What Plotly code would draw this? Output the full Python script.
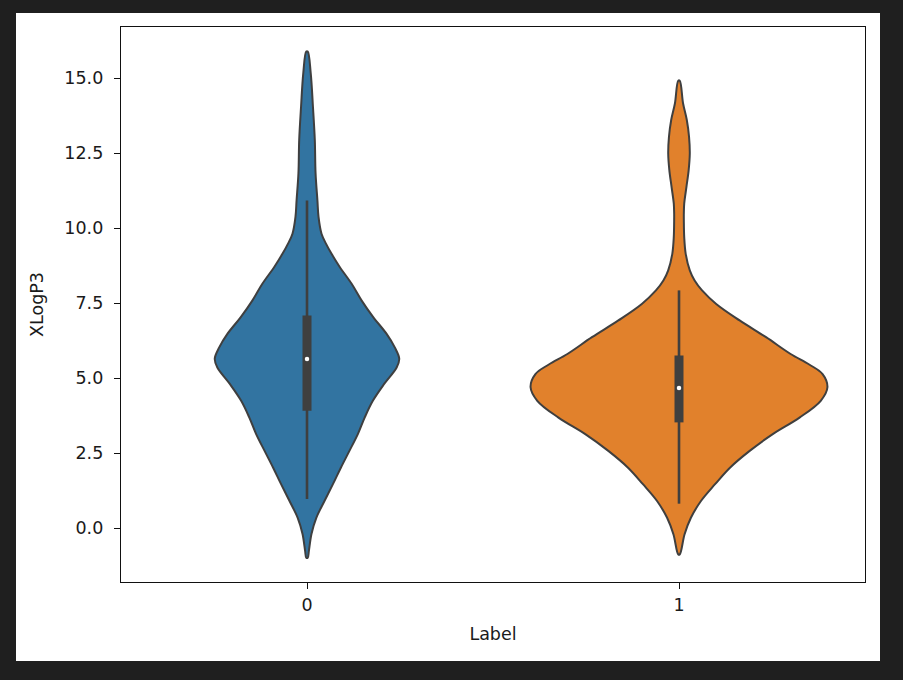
import plotly.graph_objects as go

# ---- data ----
categories = ["0", "1"]
fill_colors = ["#3274a1", "#e1812c"]

# group "0": density outline (value levels, half-width in category units)
levels_0 = [15.88, 15.16, 14.04, 12.93, 11.83, 10.92, 10.37, 9.81, 9.48, 9.14, 8.70, 8.14,
            7.58, 7.03, 6.47, 6.02, 5.64, 5.35, 4.81, 4.24, 3.68, 3.14, 2.57, 2.01,
            1.47, 0.90, 0.34, -0.20, -0.77, -0.99]
halfw_0 = [0.002, 0.010, 0.016, 0.021, 0.023, 0.028, 0.031, 0.039, 0.051, 0.066, 0.088, 0.120,
           0.147, 0.178, 0.214, 0.236, 0.248, 0.241, 0.208, 0.177, 0.155, 0.137, 0.114, 0.091,
           0.070, 0.047, 0.025, 0.012, 0.005, 0.002]

# group "1"
levels_1 = [14.91, 14.15, 13.60, 13.04, 12.48, 11.93, 11.37, 10.81, 10.48, 10.26, 9.70, 9.14,
            8.59, 8.25, 7.92, 7.47, 6.92, 6.36, 5.80, 5.45, 5.13, 4.69, 4.24, 3.68,
            3.13, 2.57, 2.01, 1.46, 0.90, 0.34, -0.21, -0.88]
halfw_1 = [0.002, 0.011, 0.021, 0.027, 0.029, 0.026, 0.020, 0.014, 0.013, 0.013, 0.014, 0.018,
           0.029, 0.042, 0.062, 0.100, 0.163, 0.234, 0.300, 0.350, 0.386, 0.399, 0.381, 0.324,
           0.252, 0.190, 0.137, 0.097, 0.059, 0.032, 0.015, 0.002]

# box statistics: whisker low, q1, median, q3, whisker high
box_0 = [0.97, 3.91, 5.63, 7.08, 10.92]
box_1 = [0.81, 3.52, 4.67, 5.75, 7.92]

y_ticks = [0.0, 2.5, 5.0, 7.5, 10.0, 12.5, 15.0]
y_tick_labels = ["0.0", "2.5", "5.0", "7.5", "10.0", "12.5", "15.0"]
x_title = "Label"
y_title = "XLogP3"

# ---- figure ----
EDGE = "#3f3f3f"
fig = go.Figure()

groups = [(levels_0, halfw_0, box_0), (levels_1, halfw_1, box_1)]
for i, (lv, hw, bx) in enumerate(groups):
    xs = [i + w for w in hw] + [i - w for w in reversed(hw)] + [i + hw[0]]
    ys = list(lv) + list(reversed(lv)) + [lv[0]]
    fig.add_trace(go.Scatter(x=xs, y=ys, mode="lines", fill="toself",
                             fillcolor=fill_colors[i],
                             line=dict(color=EDGE, width=2, shape="spline", smoothing=1.0),
                             hoverinfo="skip", showlegend=False))
    # whisker
    fig.add_trace(go.Scatter(x=[i, i], y=[bx[0], bx[4]], mode="lines",
                             line=dict(color=EDGE, width=2.6), showlegend=False, hoverinfo="skip"))
    # box
    fig.add_trace(go.Scatter(x=[i, i], y=[bx[1], bx[3]], mode="lines",
                             line=dict(color=EDGE, width=9), showlegend=False, hoverinfo="skip"))
    # median
    fig.add_trace(go.Scatter(x=[i], y=[bx[2]], mode="markers",
                             marker=dict(color="white", size=4.5, line=dict(width=0)),
                             showlegend=False, hoverinfo="skip"))

W, H = 903, 680
L, R, T, B = 121, 865, 27, 582
pw, ph = R - L, B - T

def px_x(p):
    return (p - L) / pw

def px_y(p):
    return (B - p) / ph

fig.add_shape(type="rect", xref="paper", yref="paper",
              x0=px_x(16), x1=px_x(880), y0=px_y(661), y1=px_y(13),
              fillcolor="white", line=dict(width=0), layer="below")

font = dict(family="DejaVu Sans", size=17.5, color="#1a1a1a")

fig.update_layout(
    width=W, height=H,
    margin=dict(l=L, r=W - R, t=T, b=H - B, pad=0),
    paper_bgcolor="#1f1f1f",
    plot_bgcolor="white",
    showlegend=False,
    font=font,
    xaxis=dict(range=[-0.5, 1.5], tickmode="array", tickvals=[0, 1], ticktext=categories,
               showgrid=False, zeroline=False, showline=True, linecolor="#111111", linewidth=1.4,
               mirror=True, ticks="outside", ticklen=6, tickwidth=1.3, tickcolor="#111111",
               tickfont=font, ticklabelstandoff=1,
               title=dict(text=x_title, font=font, standoff=13)),
    yaxis=dict(range=[-1.80, 16.70], tickmode="array", tickvals=y_ticks, ticktext=y_tick_labels,
               showgrid=False, zeroline=False, showline=True, linecolor="#111111", linewidth=1.4,
               mirror=True, ticks="outside", ticklen=6, tickwidth=1.3, tickcolor="#111111",
               tickfont=font, ticklabelstandoff=7,
               title=dict(text=y_title, font=font, standoff=16)),
)

fig.write_html(
    "out.html",
    config={"displayModeBar": False},
    post_script="document.body.style.margin='0';document.body.style.padding='0';"
                "document.body.style.overflow='hidden';document.body.style.background='#1f1f1f';",
)
